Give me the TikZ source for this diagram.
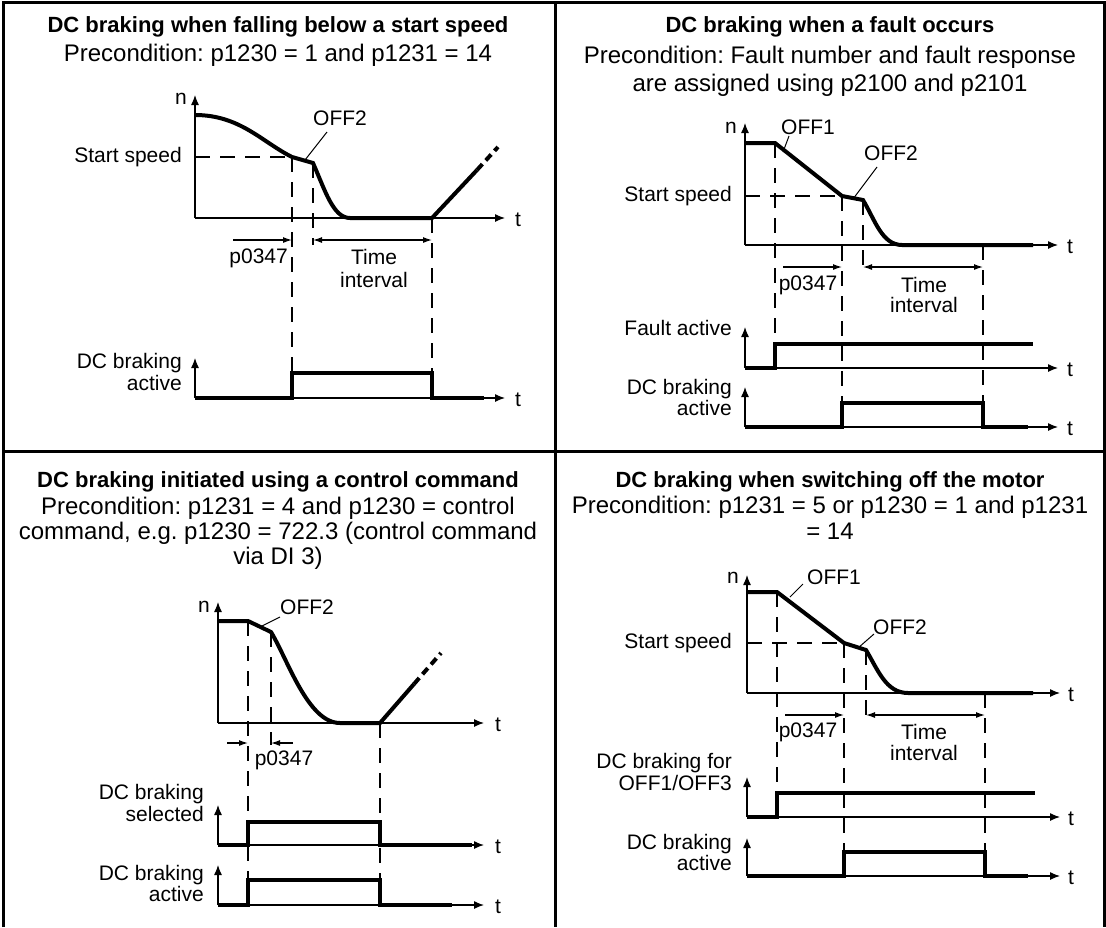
\documentclass[tikz,border=0pt]{standalone}
\usepackage{fontspec}
\setmainfont{Liberation Sans}
\usetikzlibrary{arrows.meta}
\begin{document}
\frenchspacing
\begin{tikzpicture}[x=1pt,y=-1pt,
 ttl/.style={font=\fontsize{22}{25}\selectfont\bfseries\frenchspacing, inner sep=0pt, text height=16pt, text depth=4.5pt},
 pre/.style={font=\fontsize{24}{25}\selectfont\frenchspacing, inner sep=0pt, text height=17pt, text depth=5pt},
 lbl/.style={font=\fontsize{21}{21.5}\selectfont, inner sep=0pt, align=right, anchor=east},
 tl/.style={font=\fontsize{21}{21.5}\selectfont, inner sep=0pt},
 frm/.style={line width=3pt, line join=miter},
 ax/.style={line width=1.2pt, -{Latex[length=10pt,width=8pt]}},
 gd/.style={line width=1.2pt, dash pattern=on 15pt off 10pt},
 sig/.style={line width=4pt, line join=miter},
 sigd/.style={line width=4pt, dash pattern=on 8pt off 5pt},
 dimr/.style={line width=1.2pt, -{Latex[length=9pt,width=6pt]}},
 dimb/.style={line width=1.2pt, {Latex[length=9pt,width=6pt]}-{Latex[length=9pt,width=6pt]}},
 ldr/.style={line width=1pt}]
\useasboundingbox (0,0) rectangle (1106,927);
% frame
\draw[frm] (3,927) -- (3,2) -- (1104,2) -- (1104,927);
\draw[frm] (555,2) -- (555,927);
\draw[frm] (3,451) -- (1104,451);

% ---------------- Q1 ----------------
\node[ttl] (q1title) at (278,27) {DC braking when falling below a start speed};
\node[pre] (q1pre) at (278,55) {Precondition: p1230 = 1 and p1231 = 14};
\coordinate (o1) at (195,218);
\draw[ax] (o1) -- (195,95);
\draw[ax] (o1) -- (505,218);
\node[tl] (q1n) at (181,99) {n};
\node[tl] (q1t) at (518,220) {t};
\node[lbl] (q1ss) at (182,157) {Start speed};
\draw[gd] (195,157) -- (292,157);
\draw[gd] (292,157) -- (292,373);
\draw[gd] (313,163) -- (313,245);
\draw[gd] (432,218) -- (432,373);
\draw[sig] (195,115) .. controls (240,115) and (262,142) .. (292,157) -- (313,163) .. controls (325,190) and (333,218) .. (350,218) -- (432,218) -- (477,170);
\draw[sigd] (477,170) -- (498,147);
\node[tl] (q1off2) at (340,118) {OFF2};
\draw[ldr] (327,132) -- (305,160);
\draw[dimr] (233,240) -- (292,240);
\draw[dimb] (313,240) -- (432,240);
\node[tl, anchor=east] (q1p) at (288,258) {p0347};
\node[tl] (q1ti) at (374,257) {Time};
\node[tl] (q1in) at (374,280) {interval};
\draw[ax] (195,398) -- (195,358);
\draw[ax] (195,398) -- (505,398);
\draw[sig] (195,398) -- (292,398) -- (292,373) -- (432,373) -- (432,398) -- (484,398);
\node[lbl] (q1a) at (182,372) {DC braking\\active};
\node[tl] (q1t2) at (518,400) {t};

% ---------------- Q2 ----------------
\node[ttl] (q2title) at (830,27) {DC braking when a fault occurs};
\node[pre] (q2pre1) at (830,57) {Precondition: Fault number and fault response};
\node[pre] (q2pre2) at (830,85) {are assigned using p2100 and p2101};
\coordinate (o2) at (745,245);
\draw[ax] (o2) -- (745,123);
\draw[ax] (o2) -- (1058,245);
\node[tl] (q2n) at (731,128) {n};
\node[tl] (q2t) at (1070,247) {t};
\node[lbl] (q2ss) at (732,196) {Start speed};
\draw[gd] (745,196) -- (842,196);
\draw[gd] (775,143) -- (775,344);
\draw[gd] (842,196) -- (842,403);
\draw[gd] (863,200) -- (863,272);
\draw[gd] (983,245) -- (983,403);
\draw[sig] (745,143) -- (775,143) -- (842,196) -- (863,200) .. controls (875,220) and (882,245) .. (902,245) -- (1033,245);
\node[tl] (q2off1) at (808,127) {OFF1};
\draw[ldr] (789,136) -- (783,152);
\node[tl] (q2off2) at (891,153) {OFF2};
\draw[ldr] (877,167) -- (853,199);
\draw[dimr] (783,267) -- (842,267);
\draw[dimb] (863,267) -- (983,267);
\node[tl] (q2p) at (808,285) {p0347};
\node[tl] (q2ti) at (924,285) {Time};
\node[tl] (q2in) at (924,305) {interval};
\draw[ax] (745,368) -- (745,327);
\draw[ax] (745,368) -- (1058,368);
\draw[sig] (745,368) -- (775,368) -- (775,344) -- (1033,344);
\node[lbl] (q2f) at (732,328) {Fault active};
\node[tl] (q2t2) at (1070,370) {t};
\draw[ax] (745,427) -- (745,387);
\draw[ax] (745,427) -- (1058,427);
\draw[sig] (745,427) -- (842,427) -- (842,403) -- (983,403) -- (983,427) -- (1028,427);
\node[lbl] (q2a) at (732,397.5) {DC braking\\active};
\node[tl] (q2t3) at (1070,429) {t};

% ---------------- Q3 ----------------
\node[ttl] (q3title) at (278,482) {DC braking initiated using a control command};
\node[pre] (q3pre1) at (278,508) {Precondition: p1231 = 4 and p1230 = control};
\node[pre] (q3pre2) at (278,533) {command, e.g. p1230 = 722.3 (control command};
\node[pre] (q3pre3) at (278,558) {via DI 3)};
\coordinate (o3) at (218,723);
\draw[ax] (o3) -- (218,602);
\draw[ax] (o3) -- (484,723);
\node[tl] (q3n) at (204,607) {n};
\node[tl] (q3t) at (498,725) {t};
\draw[gd] (248,621) -- (248,880);
\draw[gd] (271,632) -- (271,745);
\draw[gd] (380,723) -- (380,880);
\draw[sig] (218,621) -- (248,621) -- (271,632) .. controls (288,660) and (308,723) .. (340,723) -- (380,723) -- (414,684);
\draw[sigd] (414,684) -- (441,653);
\node[tl] (q3off2) at (307,607) {OFF2};
\draw[ldr] (280,617) -- (262,626);
\draw[dimr] (227,743) -- (248,743);
\draw[dimr] (293,743) -- (271,743);
\node[tl] (q3p) at (284,760) {p0347};
\draw[ax] (218,845) -- (218,805);
\draw[ax] (218,845) -- (484,845);
\draw[sig] (218,845) -- (248,845) -- (248,822) -- (380,822) -- (380,845) -- (472,845);
\node[lbl] (q3s) at (204,803) {DC braking\\selected};
\node[tl] (q3t2) at (498,847) {t};
\draw[ax] (218,905) -- (218,865);
\draw[ax] (218,905) -- (484,905);
\draw[sig] (218,905) -- (248,905) -- (248,880) -- (380,880) -- (380,905) -- (452,905);
\node[lbl] (q3a) at (204,883.5) {DC braking\\active};
\node[tl] (q3t3) at (498,907) {t};

% ---------------- Q4 ----------------
\node[ttl] (q4title) at (830,482) {DC braking when switching off the motor};
\node[pre] (q4pre1) at (830,507) {Precondition: p1231 = 5 or p1230 = 1 and p1231};
\node[pre] (q4pre2) at (830,533) {= 14};
\coordinate (o4) at (747,693);
\draw[ax] (o4) -- (747,575);
\draw[ax] (o4) -- (1060,693);
\node[tl] (q4n) at (733,578) {n};
\node[tl] (q4t) at (1071,695) {t};
\node[lbl] (q4ss) at (732,643) {Start speed};
\draw[gd] (747,643) -- (844,643);
\draw[gd] (777,592) -- (777,793);
\draw[gd] (844,643) -- (844,852);
\draw[gd] (866,650) -- (866,720);
\draw[gd] (985,693) -- (985,852);
\draw[sig] (747,592) -- (777,592) -- (844,643) -- (866,650) .. controls (878,670) and (886,693) .. (908,693) -- (1033,693);
\node[tl] (q4off1) at (834,577) {OFF1};
\draw[ldr] (803,584) -- (790,597);
\node[tl] (q4off2) at (900,627) {OFF2};
\draw[ldr] (874,634) -- (858,648);
\draw[dimr] (785,715) -- (844,715);
\draw[dimb] (866,715) -- (985,715);
\node[tl] (q4p) at (808,732) {p0347};
\node[tl] (q4ti) at (924,732) {Time};
\node[tl] (q4in) at (924,753) {interval};
\draw[ax] (747,817) -- (747,777);
\draw[ax] (747,817) -- (1060,817);
\draw[sig] (747,817) -- (777,817) -- (777,793) -- (1035,793);
\node[lbl] (q4o) at (732,772) {DC braking for\\OFF1/OFF3};
\node[tl] (q4t2) at (1071,819) {t};
\draw[ax] (747,876) -- (747,838);
\draw[ax] (747,876) -- (1060,876);
\draw[sig] (747,876) -- (844,876) -- (844,852) -- (985,852) -- (985,876) -- (1028,876);
\node[lbl] (q4a) at (732,852.5) {DC braking\\active};
\node[tl] (q4t3) at (1071,878) {t};
\end{tikzpicture}
\end{document}
